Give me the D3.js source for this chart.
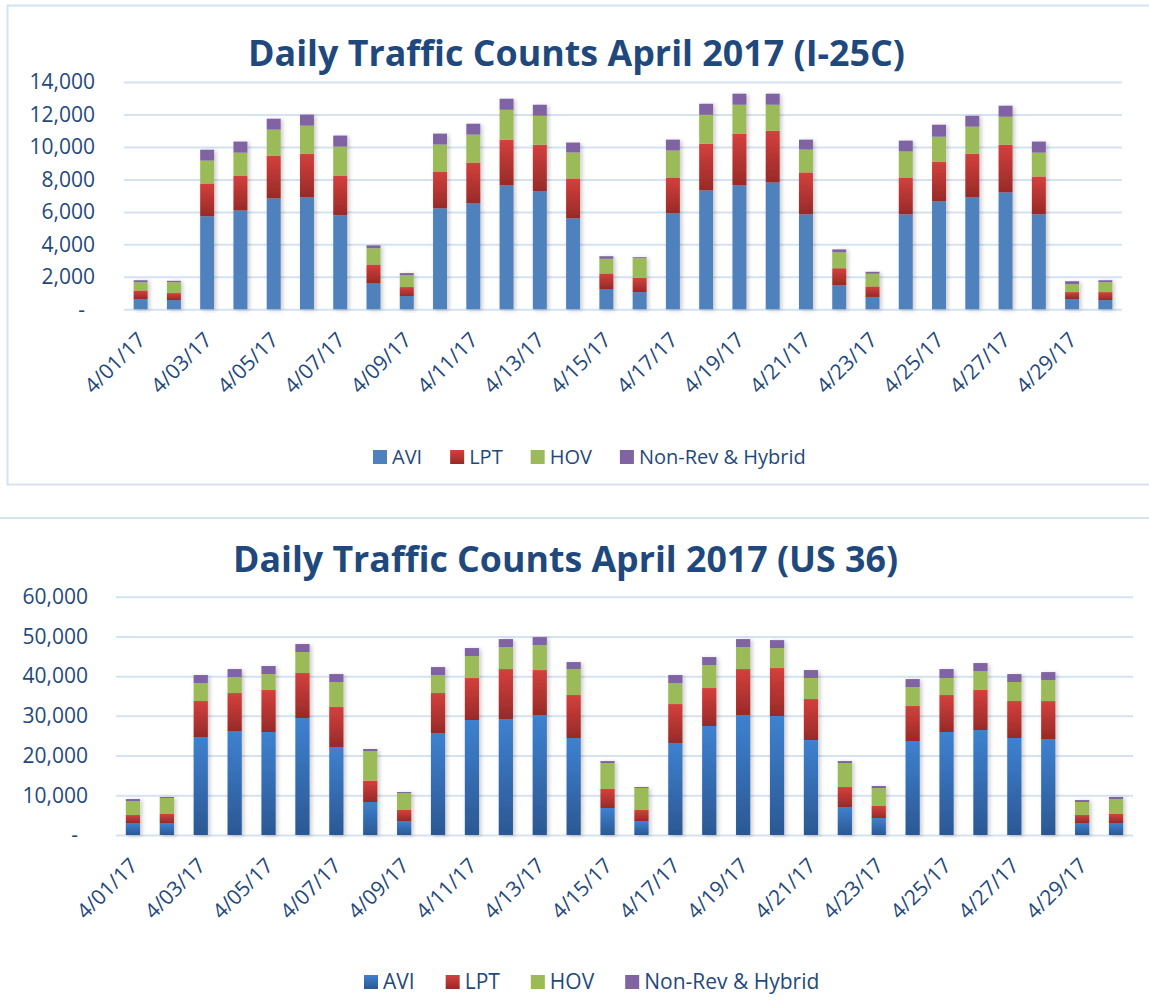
<!DOCTYPE html>
<html>
<head>
<meta charset="utf-8">
<script src="https://cdn.jsdelivr.net/npm/d3@7"></script>
<style>
  body { margin: 0; background: #fff; }
  svg { display: block; }
  .grid line { stroke: #d5e2f2; stroke-width: 2; }
  .grid .domain { display: none; }
  .axis .domain { display: none; }
  .axis text { font-family: "Open Sans", sans-serif; font-size: 21px; fill: #1f497d; }
</style>
</head>
<body>
<svg width="1149" height="1005"></svg>
<script>
// days of April 2017
var dates = d3.range(1, 31).map(function (d) { return "4/" + (d < 10 ? "0" + d : d) + "/17"; });
var dateTicks = dates.filter(function (d, i) { return i % 2 === 0; });
var keys = ["AVI", "LPT", "HOV", "Non-Rev & Hybrid"];

// I-25C
var i25Avi = [630, 570, 5730, 6090, 6830, 6890, 5790, 1620, 820, 6220, 6520, 7630, 7260, 5600, 1250,
              1060, 5910, 7320, 7630, 7810, 5850, 1490, 760, 5850, 6650, 6890, 7200, 5850, 630, 570];
var i25Lpt = [530, 430, 2020, 2150, 2640, 2700, 2450, 1140, 550, 2270, 2520, 2820, 2880, 2460, 960,
              880, 2210, 2880, 3170, 3190, 2580, 1040, 650, 2270, 2450, 2700, 2940, 2330, 430, 490];
var i25Hov = [510, 675, 1410, 1410, 1600, 1720, 1780, 1000, 740, 1660, 1720, 1840, 1780, 1600, 900,
              1210, 1660, 1780, 1800, 1600, 1410, 980, 780, 1600, 1530, 1660, 1720, 1470, 490, 610];
var i25Nr  = [120, 80, 670, 680, 670, 680, 680, 180, 120, 670, 670, 680, 680, 610, 160,
              60, 670, 680, 680, 680, 610, 180, 120, 670, 740, 670, 680, 680, 180, 120];
var i25Ticks = [0, 2000, 4000, 6000, 8000, 10000, 12000, 14000];

// US 36
var us36Avi = [3020, 3020, 24670, 26180, 25930, 29450, 22150, 8310, 3520, 25670, 28950, 29200, 30200, 24420, 6800,
               3520, 23160, 27440, 30200, 29950, 23910, 7050, 4280, 23660, 25930, 26430, 24420, 24160, 3020, 3020];
var us36Lpt = [2010, 2270, 9060, 9560, 10570, 11330, 10070, 5370, 2770, 10070, 10570, 12580, 11330, 10820, 4780,
               2770, 9810, 9560, 11580, 12080, 10320, 5030, 3020, 8810, 9310, 10070, 9310, 9560, 2010, 2270];
var us36Hov = [3520, 4030, 4530, 4030, 4030, 5290, 6290, 7470, 4280, 4530, 5540, 5540, 6290, 6540, 6540,
               5540, 5290, 5790, 5540, 5030, 5290, 6040, 4530, 4780, 4280, 4780, 4780, 5290, 3270, 3780];
var us36Nr  = [500, 250, 2010, 2010, 2010, 2010, 2010, 500, 250, 2010, 2010, 2010, 2010, 1760, 500,
               250, 2010, 2010, 2010, 2010, 2010, 500, 500, 2010, 2260, 2010, 2010, 2010, 500, 500];
var us36Ticks = [0, 10000, 20000, 30000, 40000, 50000, 60000];

var svg = d3.select("svg");
var defs = svg.append("defs");

function vGrad(id, top, bottom) {
    var g = defs.append("linearGradient").attr("id", id)
        .attr("x1", 0).attr("y1", 0).attr("x2", 0).attr("y2", 1);
    g.append("stop").attr("offset", "0%").attr("stop-color", top);
    g.append("stop").attr("offset", "100%").attr("stop-color", bottom);
}
vGrad("gRed", "#d4403c", "#972a28");
vGrad("gBlue", "#3e81d0", "#2b5893");

var f = defs.append("filter").attr("id", "shadow")
    .attr("x", "-60%").attr("y", "-10%").attr("width", "220%").attr("height", "120%");
f.append("feGaussianBlur").attr("in", "SourceAlpha").attr("stdDeviation", 2).attr("result", "b");
f.append("feOffset").attr("in", "b").attr("dx", 2).attr("dy", 1).attr("result", "o");
f.append("feComponentTransfer").attr("in", "o").attr("result", "s")
    .append("feFuncA").attr("type", "linear").attr("slope", 0.22);
var m = f.append("feMerge");
m.append("feMergeNode").attr("in", "s");
m.append("feMergeNode").attr("in", "SourceGraphic");

// chart frames
svg.append("rect")
    .attr("x", 7.5).attr("y", 5.5).attr("width", 1160).attr("height", 479)
    .attr("fill", "none").attr("stroke", "#d5e2f2").attr("stroke-width", 2);
svg.append("line")
    .attr("x1", 0).attr("x2", 1149).attr("y1", 518).attr("y2", 518)
    .attr("stroke", "#d5e2f2").attr("stroke-width", 2);

function drawChart(o) {
    var data = dates.map(function (d, i) {
        return { date: d, "AVI": o.series[0][i], "LPT": o.series[1][i], "HOV": o.series[2][i], "Non-Rev & Hybrid": o.series[3][i] };
    });
    var stacked = d3.stack().keys(keys)(data);

    var x = d3.scaleBand().domain(dates).range([o.left, o.right]).paddingInner(0.58).paddingOuter(0.29);
    var y = d3.scaleLinear().domain([0, o.ticks[o.ticks.length - 1]]).range([o.bottom, o.top]);

    // title
    svg.append("text")
        .attr("x", o.titleX).attr("y", o.titleY)
        .attr("text-anchor", "middle")
        .attr("textLength", o.titleLen).attr("lengthAdjust", "spacingAndGlyphs")
        .style("font-family", "'Open Sans', sans-serif").style("font-weight", "bold")
        .style("font-size", "36px").style("fill", "#1f497d")
        .text(o.title);

    // gridlines
    svg.append("g")
        .attr("class", "grid")
        .attr("transform", "translate(" + o.left + ",0)")
        .call(d3.axisLeft(y).tickValues(o.ticks).tickSize(-(o.right - o.left)).tickFormat(""));

    // y axis labels
    var ya = svg.append("g")
        .attr("class", "axis")
        .attr("transform", "translate(" + o.left + ",0)")
        .call(d3.axisLeft(y).tickValues(o.ticks).tickSize(0).tickPadding(o.labelPad)
            .tickFormat(function (d) { return d === 0 ? "-" : d3.format(",")(d); }));
    ya.selectAll(".tick").filter(function (d) { return d === 0; })
        .select("text").attr("x", -o.labelPad - 10);

    // stacked bars, one group per day
    var fills = [o.aviFill, "url(#gRed)", "#9bbb59", "#8064a2"];
    var day = svg.append("g").selectAll("g")
        .data(data)
        .enter().append("g")
        .attr("filter", "url(#shadow)");
    day.selectAll("rect")
        .data(function (d, i) { return stacked.map(function (s, k) { return { k: k, v: s[i], date: d.date }; }); })
        .enter().append("rect")
        .attr("x", function (d) { return x(d.date); })
        .attr("width", x.bandwidth())
        .attr("y", function (d) { return y(d.v[1]); })
        .attr("height", function (d) { return y(d.v[0]) - y(d.v[1]); })
        .attr("fill", function (d) { return fills[d.k]; });

    // x axis labels
    var xa = svg.append("g")
        .attr("class", "axis")
        .attr("transform", "translate(0," + o.bottom + ")")
        .call(d3.axisBottom(x).tickValues(dateTicks).tickSize(0));
    xa.selectAll("text")
        .attr("y", 0).attr("dy", 0)
        .attr("text-anchor", "end")
        .attr("transform", "translate(6,32) rotate(-45)");

    // legend
    var lg = svg.append("g");
    var lx = 0;
    keys.forEach(function (k, i) {
        lg.append("rect")
            .attr("x", lx).attr("y", -14).attr("width", 14).attr("height", 14)
            .attr("fill", fills[i]);
        var t = lg.append("text")
            .attr("x", lx + 19).attr("y", 0)
            .style("font-family", "'Open Sans', sans-serif").style("font-size", o.legendSize + "px")
            .style("fill", "#1f497d")
            .text(k);
        lx += 19 + t.node().getComputedTextLength() + o.legendGap;
    });
    lg.attr("transform", "translate(" + o.legendX + "," + o.legendY + ")");
}

drawChart({
    title: "Daily Traffic Counts April 2017 (I-25C)",
    titleX: 576.5, titleY: 66, titleLen: 657,
    series: [i25Avi, i25Lpt, i25Hov, i25Nr],
    ticks: i25Ticks,
    left: 124, right: 1122, top: 82, bottom: 309.3,
    labelPad: 29,
    aviFill: "#4f81bd",
    legendX: 373, legendY: 464, legendSize: 20, legendGap: 28
});

drawChart({
    title: "Daily Traffic Counts April 2017 (US 36)",
    titleX: 565.5, titleY: 572, titleLen: 665,
    series: [us36Avi, us36Lpt, us36Hov, us36Nr],
    ticks: us36Ticks,
    left: 116, right: 1133, top: 596.7, bottom: 835,
    labelPad: 28,
    aviFill: "url(#gBlue)",
    legendX: 364, legendY: 989, legendSize: 21, legendGap: 31
});
</script>
</body>
</html>
